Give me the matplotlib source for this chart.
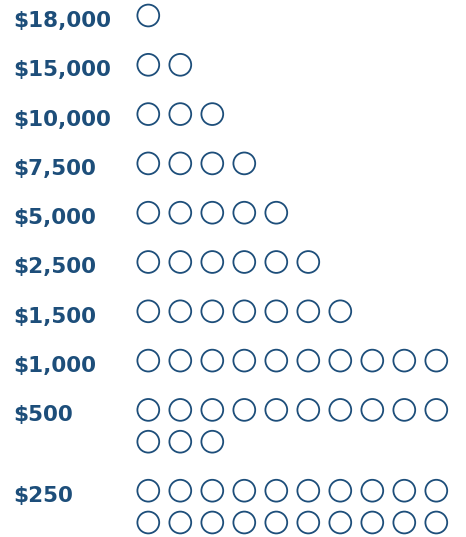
import matplotlib.pyplot as plt
from matplotlib.patches import Circle

# donation levels and number of gifts at each level
levels = ["$18,000", "$15,000", "$10,000", "$7,500", "$5,000",
          "$2,500", "$1,500", "$1,000", "$500", "$250"]
counts = [1, 2, 3, 4, 5, 6, 7, 10, 13, 20]

color = "#1d4e7a"
per_row = 10

fig = plt.figure(figsize=(4.66, 5.37), dpi=100)
ax = fig.add_axes([0, 0, 1, 1])
ax.set_xlim(0, 466)
ax.set_ylim(537, 0)
ax.set_aspect("equal")
ax.axis("off")

y = 15.5
for label, n in zip(levels, counts):
    ax.text(13, y + 11.5, label, fontsize=15.5, fontweight="heavy", color=color,
            family="DejaVu Sans", va="baseline", ha="left")
    for i in range(n):
        cx = 148.3 + 32 * (i % per_row)
        cy = y + 31.8 * (i // per_row)
        ax.add_patch(Circle((cx, cy), 10.9, fill=False, lw=1.3, ec=color))
    lines = (n - 1) // per_row
    y += 49.3 + 31.5 * lines

fig.savefig("out.png", dpi=100)
